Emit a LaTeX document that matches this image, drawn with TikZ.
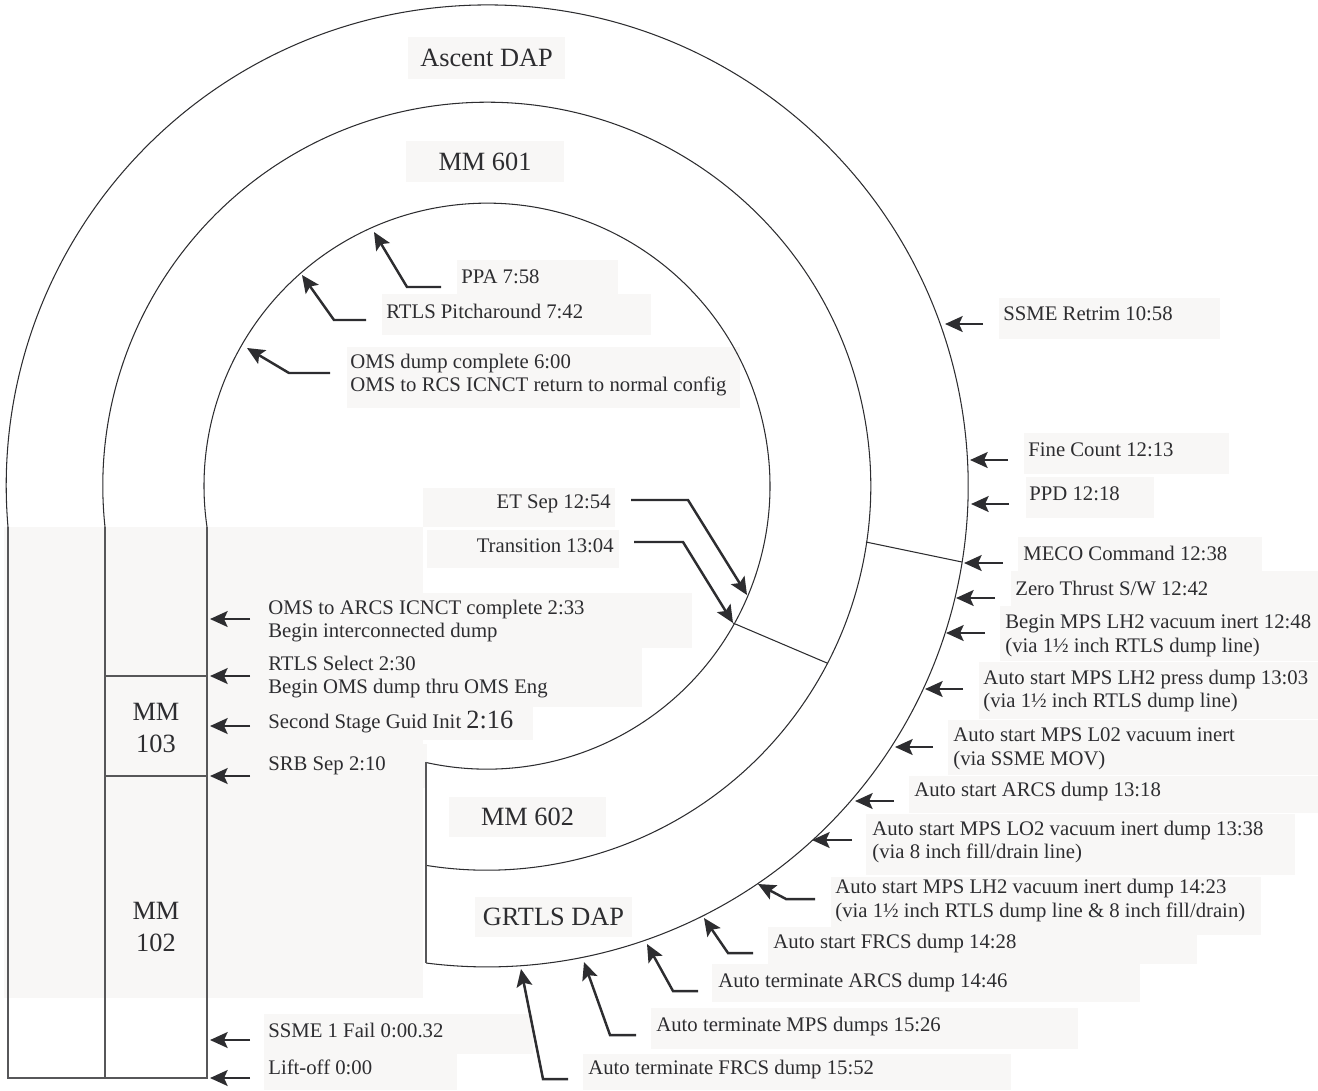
\documentclass[tikz,border=0pt]{standalone}
\usepackage{fontspec}
\setmainfont{Liberation Serif}
\usetikzlibrary{arrows.meta,positioning}
\definecolor{boxbg}{RGB}{248,247,246}
\definecolor{ink}{RGB}{45,45,48}

\begin{document}
\begin{tikzpicture}[x=0.02cm, y=-0.02cm,
  every node/.style={text=ink},
  lbl/.style={anchor=west, inner sep=0pt, align=left, font=\fontsize{11.8}{13.6}\selectfont},
  ring/.style={fill=boxbg, inner sep=0pt, font=\fontsize{15}{18.2}\selectfont},
  evarrow/.style={-{Stealth[length=10pt,width=9pt,inset=2pt]}, line width=1.4pt, draw=ink},
  orbit/.style={draw=ink, line width=0.6pt},
  tabline/.style={draw=ink!80, line width=0.6pt}]
  \useasboundingbox (0,0) rectangle (1318,1090);

  % Background of the mode table and of the text boxes
  \fill[boxbg] (4,527) rectangle (423,998);
  \foreach \x/\y/\w/\h in {999/298/221/41, 1024/433/205/41, 1026/477/128/41, 1018/537/244/34,
      1011/571/307/35, 1000/606/318/55, 979/662/339/57, 948/720/370/55, 909/776/409/37,
      866/814/429/61, 768/927/429/37, 831/877/430/58, 712/964/428/38, 651/1008/427/41,
      583/1054/428/36, 262/593/430/55, 262/648/380/59, 262/707/271/33, 262/744/165/44,
      264/1014/269/40, 264/1054/193/36, 457/260/161/34, 382/294/269/41, 347/347/393/61,
      423/488/192/39, 427/530/192/38}
    \fill[boxbg] (\x,\y) rectangle ++(\w,\h);

  % Phase labels in the rings
  \node[ring, minimum width=3.14cm, minimum height=0.84cm] (lAscent) at (486.5,58) {Ascent DAP};
  \node[ring, minimum width=3.16cm, minimum height=0.82cm] (lMMsixOone) at (485,161.5) {MM 601};
  \node[ring, minimum width=3.14cm, minimum height=0.80cm] (lMMsixOtwo) at (527.5,817) {MM 602};
  \node[ring, minimum width=3.14cm, minimum height=0.80cm] (lGRTLS) at (553.5,917) {GRTLS DAP};
  \node[align=center, font=\fontsize{15}{18.2}\selectfont] (lMMoneOthree) at (156,728) {MM\\103};
  \node[align=center, font=\fontsize{15}{18.2}\selectfont] (lMMoneOtwo) at (156,927) {MM\\102};

  % Events of the first stage (left)
  \node[lbl] (lICNCT) at (268,621) {OMS to ARCS ICNCT complete 2:33\\Begin interconnected dump};
  \node[lbl] (lRTLSsel) at (268,677) {RTLS Select 2:30\\Begin OMS dump thru OMS Eng};
  \node[lbl] (lGuid) at (268,722) {Second Stage Guid Init {\fontsize{15}{18}\selectfont 2:16}};
  \node[lbl] (lSRB) at (268,766) {SRB Sep 2:10};
  \node[lbl] (lSSMEone) at (268,1030) {SSME 1 Fail 0:00.32};
  \node[lbl] (lLift) at (268,1067) {Lift-off 0:00};

  % Events inside the MM 601 ring
  \node[lbl] (lPPA) at (461,277) {PPA 7:58};
  \node[lbl] (lPitch) at (386,311) {RTLS Pitcharound 7:42};
  \node[lbl] (lOMSdump) at (350,375) {OMS dump complete 6:00\\OMS to RCS ICNCT return to normal config};
  \node[lbl, anchor=east] (lETsep) at (611,504) {ET Sep 12:54};
  \node[lbl, anchor=east] (lTrans) at (614,546) {Transition 13:04};

  % Events of the outer ring (right)
  \node[lbl] (lRetrim) at (1003,314) {SSME Retrim 10:58};
  \node[lbl] (lFine) at (1028,450) {Fine Count 12:13};
  \node[lbl] (lPPD) at (1029,494) {PPD 12:18};
  \node[lbl] (lMECO) at (1023,553) {MECO Command 12:38};
  \node[lbl] (lZero) at (1015,588) {Zero Thrust S/W 12:42};
  \node[lbl] (lBeginLH) at (1005,635.5) {Begin MPS LH2 vacuum inert 12:48\\(via 1½ inch RTLS dump line)};
  \node[lbl] (lPressLH) at (983,691) {Auto start MPS LH2 press dump 13:03\\(via 1½ inch RTLS dump line)};
  \node[lbl] (lLOmov) at (953,749) {Auto start MPS L02 vacuum inert\\(via SSME MOV)};
  \node[lbl] (lARCSs) at (914,791) {Auto start ARCS dump 13:18};
  \node[lbl] (lLOdump) at (872,842) {Auto start MPS LO2 vacuum inert dump 13:38\\(via 8 inch fill/drain line)};
  \node[lbl] (lLHvac) at (835,900.5) {Auto start MPS LH2 vacuum inert dump 14:23\\(via 1½ inch RTLS dump line \& 8 inch fill/drain)};
  \node[lbl] (lFRCSs) at (773,943) {Auto start FRCS dump 14:28};
  \node[lbl] (lARCSt) at (718,982) {Auto terminate ARCS dump 14:46};
  \node[lbl] (lMPSt) at (656,1026) {Auto terminate MPS dumps 15:26};
  \node[lbl] (lFRCSt) at (588,1069) {Auto terminate FRCS dump 15:52};

  % Rings
  \draw[orbit] (8,527) arc[start angle=175.1, end angle=457.3, radius=481];
  \draw[orbit] (105,527) arc[start angle=173.9, end angle=459.1, radius=384];
  \draw[orbit] (207,527) arc[start angle=171.7, end angle=462.5, radius=283];
  \draw[orbit] (733,623) -- (827,663);
  \draw[orbit] (866,542) -- (962,562);
  \draw[tabline] (426,762) -- (426,963);

  % Mode table
  \draw[tabline] (8,527) -- (8,1078) -- (207,1078) -- (207,527);
  \draw[tabline] (105,527) -- (105,1078);
  \draw[tabline] (105,676) -- (207,676);
  \draw[tabline] (105,776) -- (207,776);

  % Arrow tips and bends
  \coordinate (tICNCT) at (210,619);
  \coordinate (tRTLSsel) at (210,676);
  \coordinate (tGuid) at (210,726);
  \coordinate (tSRB) at (210,776);
  \coordinate (tSSMEone) at (210,1040);
  \coordinate (tLift) at (210,1078);
  \coordinate (tRetrim) at (945,324);
  \coordinate (tFine) at (970,460);
  \coordinate (tPPD) at (971,504);
  \coordinate (tMECO) at (964,563);
  \coordinate (tZero) at (956,598);
  \coordinate (tBeginLH) at (946,633);
  \coordinate (tPressLH) at (925,689);
  \coordinate (tLOmov) at (895,747);
  \coordinate (tARCSs) at (855,801);
  \coordinate (tLOdump) at (812,840);
  \coordinate (bLHvac) at (786,899);   \coordinate (tLHvac) at (758,884);
  \coordinate (bFRCSs) at (728,953);   \coordinate (tFRCSs) at (704,918);
  \coordinate (bARCSt) at (673,991);   \coordinate (tARCSt) at (647,944);
  \coordinate (bMPSt) at (610,1035);   \coordinate (tMPSt) at (584,962);
  \coordinate (bFRCSt) at (543,1079);  \coordinate (tFRCSt) at (521,969);
  \coordinate (bPPA) at (407,287);     \coordinate (tPPA) at (374,232);
  \coordinate (bPitch) at (334,320);   \coordinate (tPitch) at (302,275);
  \coordinate (bOMSdump) at (289,373); \coordinate (tOMSdump) at (247,348);
  \coordinate (bETsep) at (688,500);   \coordinate (tETsep) at (747,595);
  \coordinate (bTrans) at (683,542);   \coordinate (tTrans) at (733,623);

  % Straight arrows
  \foreach \e in {ICNCT,RTLSsel,Guid,SRB,SSMEone,Lift}
    \draw[evarrow] ([xshift=-0.36cm]l\e.west |- t\e) -- (t\e);
  \foreach \e in {Retrim,Fine,PPD,MECO,Zero,BeginLH,PressLH,LOmov,ARCSs,LOdump}
    \draw[evarrow] ([xshift=-0.4cm]l\e.west |- t\e) -- (t\e);

  % Bent arrows
  \foreach \e in {LHvac,FRCSs,ARCSt,MPSt,FRCSt,PPA,Pitch,OMSdump}
    \draw[evarrow] ([xshift=-0.4cm]l\e.west |- b\e) -- (b\e) -- (t\e);
  \foreach \e in {ETsep,Trans}
    \draw[evarrow] ([xshift=0.4cm]l\e.east |- b\e) -- (b\e) -- (t\e);
\end{tikzpicture}
\end{document}
